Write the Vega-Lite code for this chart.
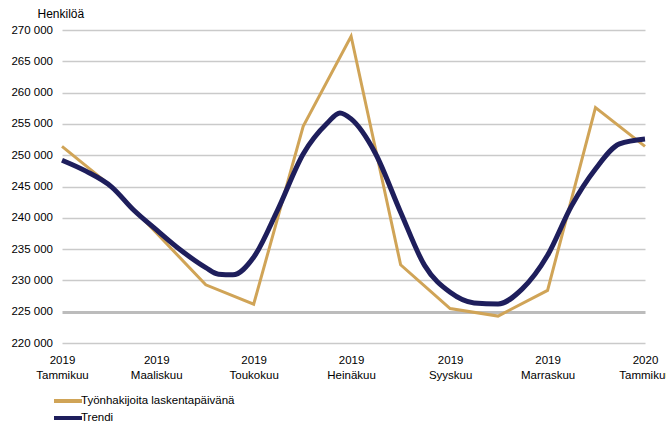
{
  "$schema": "https://vega.github.io/schema/vega-lite/v6.json",
  "width": 583,
  "height": 313,
  "autosize": "none",
  "padding": {"left": 62, "top": 30, "right": 21, "bottom": 82},
  "background": "white",
  "config": {
    "view": {"stroke": null},
    "font": "Liberation Sans",
    "axis": {"labelFont": "Liberation Sans", "labelColor": "#000000", "titleFont": "Liberation Sans", "titleColor": "#000000"},
    "legend": {"labelFont": "Liberation Sans", "labelColor": "#000000"}
  },
  "data": {
    "values": [
      {"date": "2019-01-01", "value": 251400, "series": "Työnhakijoita laskentapäivänä"},
      {"date": "2019-02-01", "value": 245000, "series": "Työnhakijoita laskentapäivänä"},
      {"date": "2019-03-01", "value": 237600, "series": "Työnhakijoita laskentapäivänä"},
      {"date": "2019-04-01", "value": 229300, "series": "Työnhakijoita laskentapäivänä"},
      {"date": "2019-05-01", "value": 226200, "series": "Työnhakijoita laskentapäivänä"},
      {"date": "2019-06-01", "value": 254600, "series": "Työnhakijoita laskentapäivänä"},
      {"date": "2019-07-01", "value": 269000, "series": "Työnhakijoita laskentapäivänä"},
      {"date": "2019-08-01", "value": 232500, "series": "Työnhakijoita laskentapäivänä"},
      {"date": "2019-09-01", "value": 225500, "series": "Työnhakijoita laskentapäivänä"},
      {"date": "2019-10-01", "value": 224300, "series": "Työnhakijoita laskentapäivänä"},
      {"date": "2019-11-01", "value": 228400, "series": "Työnhakijoita laskentapäivänä"},
      {"date": "2019-12-01", "value": 257600, "series": "Työnhakijoita laskentapäivänä"},
      {"date": "2020-01-01", "value": 251400, "series": "Työnhakijoita laskentapäivänä"},
      {"date": "2019-01-01", "value": 249200, "series": "Trendi"},
      {"date": "2019-01-16", "value": 247450, "series": "Trendi"},
      {"date": "2019-02-01", "value": 244950, "series": "Trendi"},
      {"date": "2019-02-15", "value": 241200, "series": "Trendi"},
      {"date": "2019-03-01", "value": 238100, "series": "Trendi"},
      {"date": "2019-03-16", "value": 234900, "series": "Trendi"},
      {"date": "2019-04-01", "value": 232050, "series": "Trendi"},
      {"date": "2019-04-09", "value": 231000, "series": "Trendi"},
      {"date": "2019-04-18", "value": 230900, "series": "Trendi"},
      {"date": "2019-05-01", "value": 233700, "series": "Trendi"},
      {"date": "2019-05-16", "value": 241250, "series": "Trendi"},
      {"date": "2019-06-01", "value": 250200, "series": "Trendi"},
      {"date": "2019-06-16", "value": 255100, "series": "Trendi"},
      {"date": "2019-06-24", "value": 256750, "series": "Trendi"},
      {"date": "2019-07-01", "value": 255800, "series": "Trendi"},
      {"date": "2019-07-16", "value": 250400, "series": "Trendi"},
      {"date": "2019-08-01", "value": 240900, "series": "Trendi"},
      {"date": "2019-08-16", "value": 232400, "series": "Trendi"},
      {"date": "2019-09-01", "value": 228100, "series": "Trendi"},
      {"date": "2019-09-16", "value": 226400, "series": "Trendi"},
      {"date": "2019-10-01", "value": 226250, "series": "Trendi"},
      {"date": "2019-10-16", "value": 228600, "series": "Trendi"},
      {"date": "2019-11-01", "value": 234000, "series": "Trendi"},
      {"date": "2019-11-16", "value": 241900, "series": "Trendi"},
      {"date": "2019-12-01", "value": 247800, "series": "Trendi"},
      {"date": "2019-12-16", "value": 251800, "series": "Trendi"},
      {"date": "2020-01-01", "value": 252600, "series": "Trendi"}
    ]
  },
  "encoding": {
    "x": {
      "field": "date",
      "type": "temporal",
      "scale": {"type": "utc", "domain": [{"year": 2019, "month": 1, "date": 1, "utc": true}, {"year": 2020, "month": 1, "date": 1, "utc": true}]},
      "axis": {
        "title": null,
        "grid": false,
        "ticks": false,
        "domain": false,
        "values": [
          {"year": 2019, "month": 1, "date": 1, "utc": true},
          {"year": 2019, "month": 3, "date": 1, "utc": true},
          {"year": 2019, "month": 5, "date": 1, "utc": true},
          {"year": 2019, "month": 7, "date": 1, "utc": true},
          {"year": 2019, "month": 9, "date": 1, "utc": true},
          {"year": 2019, "month": 11, "date": 1, "utc": true},
          {"year": 2020, "month": 1, "date": 1, "utc": true}
        ],
        "labelExpr": "[utcFormat(datum.value, '%Y'), ['Tammikuu','Helmikuu','Maaliskuu','Huhtikuu','Toukokuu','Kesäkuu','Heinäkuu','Elokuu','Syyskuu','Lokakuu','Marraskuu','Joulukuu'][utcmonth(datum.value)]]",
        "labelFontSize": 11.5,
        "labelPadding": 11,
        "labelLineHeight": 15,
        "labelOverlap": false,
        "labelFlush": false
      }
    },
    "y": {
      "field": "value",
      "type": "quantitative",
      "scale": {"domain": [220000, 270000], "nice": false, "zero": false},
      "axis": {
        "values": [220000, 225000, 230000, 235000, 240000, 245000, 250000, 255000, 260000, 265000, 270000],
        "labelExpr": "replace(format(datum.value, ','), ',', ' ')",
        "labelFontSize": 11.5,
        "labelPadding": 9.5,
        "ticks": false,
        "domain": false,
        "gridColor": {"condition": {"test": "datum.value === 225000", "value": "#bcbcbc"}, "value": "#cacaca"},
        "gridWidth": {"condition": {"test": "datum.value === 225000", "value": 3}, "value": 1.6},
        "title": "Henkilöä",
        "titleAngle": 0,
        "titleAlign": "left",
        "titleBaseline": "alphabetic",
        "titleX": -25,
        "titleY": -13,
        "titleFontSize": 12,
        "titleFontWeight": "normal"
      }
    },
    "color": {
      "field": "series",
      "type": "nominal",
      "scale": {"domain": ["Työnhakijoita laskentapäivänä", "Trendi"], "range": ["#D0A457", "#1E1E5C"]},
      "legend": {
        "title": null,
        "orient": "none",
        "legendX": -3,
        "legendY": 362,
        "symbolType": "M-2,0H2",
        "symbolSize": 196,
        "symbolStrokeWidth": 4,
        "symbolFillColor": "transparent",
        "labelFontSize": 11.5,
        "labelOffset": 4,
        "padding": 0,
        "rowPadding": 0
      }
    }
  },
  "layer": [
    {
      "transform": [{"filter": "datum.series === 'Työnhakijoita laskentapäivänä'"}],
      "mark": {"type": "line", "strokeWidth": 3}
    },
    {
      "transform": [{"filter": "datum.series === 'Trendi'"}],
      "mark": {"type": "line", "strokeWidth": 5, "interpolate": "monotone"}
    }
  ]
}
